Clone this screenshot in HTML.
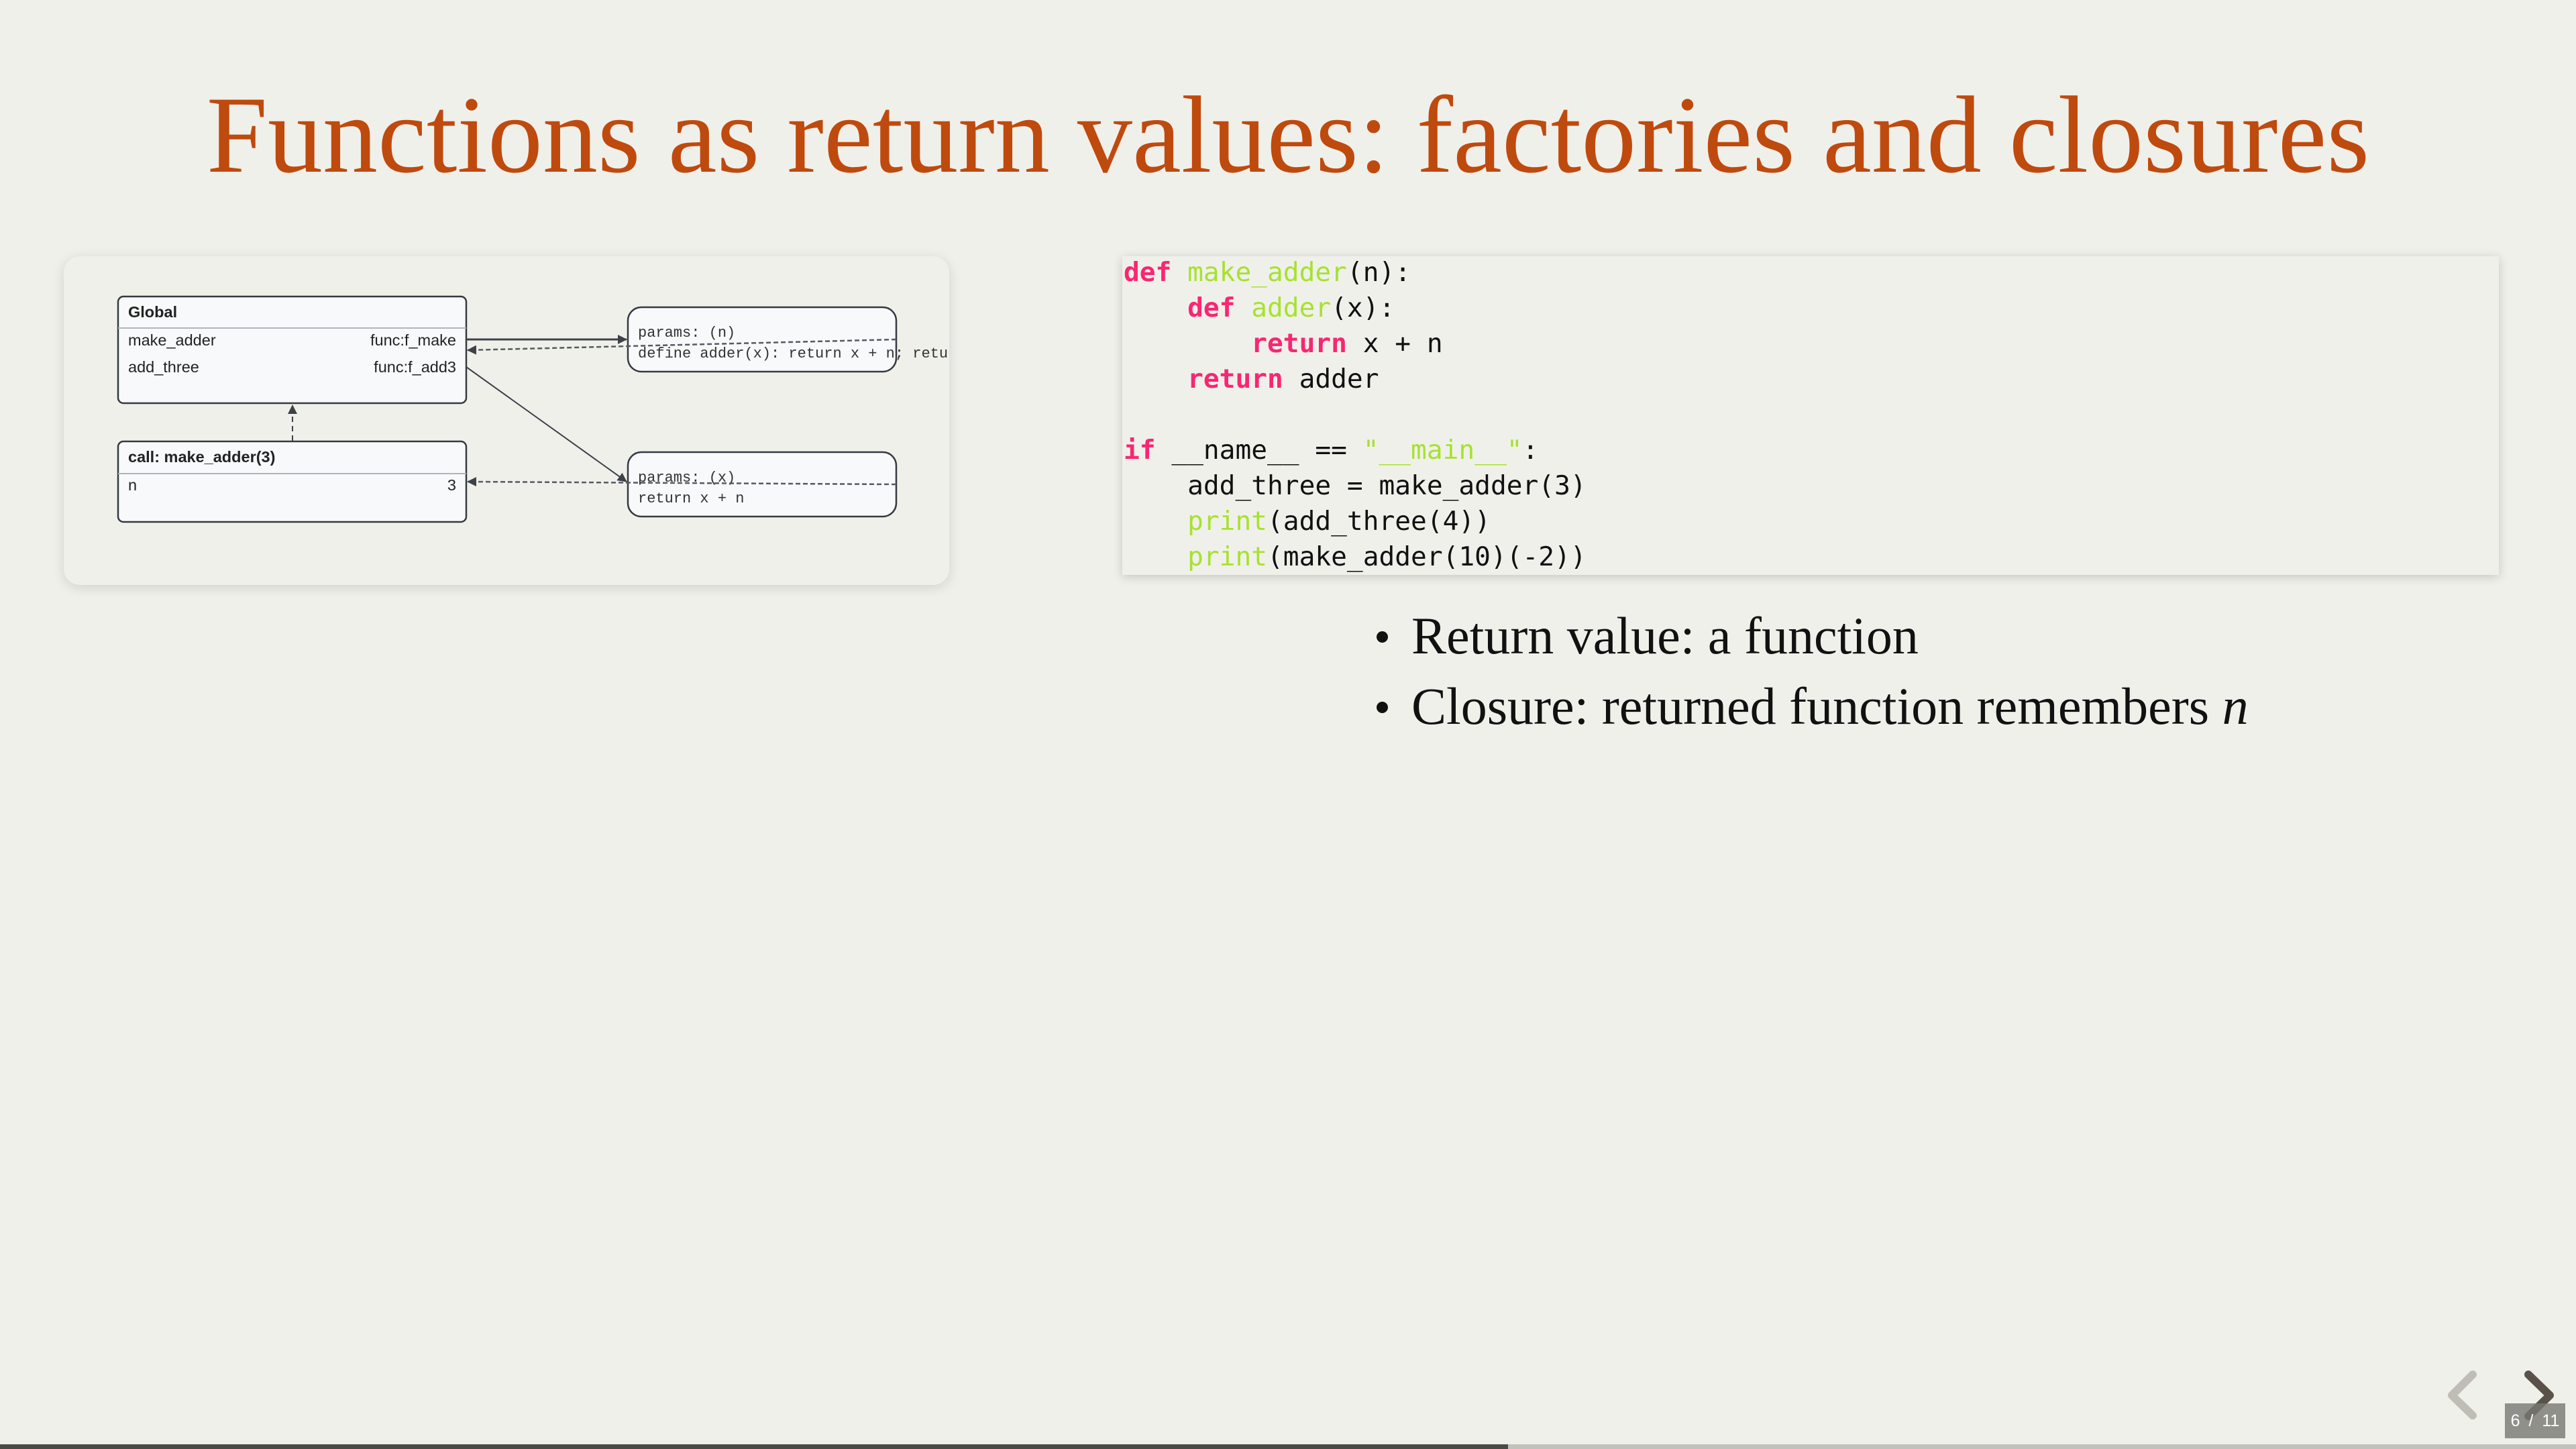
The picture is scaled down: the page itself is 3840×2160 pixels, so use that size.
<!DOCTYPE html>
<html><head><meta charset="utf-8"><style>
html,body{margin:0;padding:0}
body{width:3840px;height:2160px;background:#f0f0eb;position:relative;overflow:hidden;font-family:"Liberation Sans",sans-serif}
.title{position:absolute;left:0;width:3840px;top:92px;text-align:center;font-family:"Liberation Serif",serif;font-size:164px;color:#bf4a0e;line-height:220px;white-space:nowrap}
.panel{position:absolute;left:95px;top:382px;width:1320px;height:490px;border-radius:24px;background:#f0f0eb;box-shadow:0 4px 18px rgba(0,0,0,.13);overflow:hidden}
.code{position:absolute;left:1673px;top:382px;width:2052px;height:475px;background:#f0f0eb;box-shadow:0 3px 14px rgba(0,0,0,.18)}
.code pre{margin:0;position:absolute;left:2px;top:-2px;font-family:"DejaVu Sans Mono",monospace;font-size:39.5px;line-height:53px;color:#111}
.k{color:#f92672;font-weight:bold}.g{color:#a6e22e}
ul{position:absolute;left:2040px;top:895px;margin:0;padding:0;list-style:none;font-family:"Liberation Serif",serif;font-size:78px;color:#111}
li{height:105px;line-height:105px;position:relative;padding-left:64px}
li:before{content:"";position:absolute;left:12px;top:46px;width:17px;height:17px;border-radius:50%;background:#111}
.bar{position:absolute;left:0;top:2153px;width:3840px;height:7px;background:#c2c2bc}
.bar div{width:2248px;height:7px;background:#4a4a48}
.pg{position:absolute;left:3734px;top:2092px;width:90px;height:52px;background:rgba(120,120,115,.8);color:#fff;font-size:25px;line-height:52px;text-align:center;word-spacing:6px}
</style></head><body>
<div class="title">Functions as return values: factories and closures</div>
<div class="panel">
<svg width="1320" height="490" viewBox="95 382 1320 490" style="position:absolute;left:0;top:0">
<defs>
<marker id="a" markerWidth="14" markerHeight="14" refX="13" refY="7" orient="auto" markerUnits="userSpaceOnUse" viewBox="0 0 14 14"><path d="M0,0L14,7L0,14z" fill="#3d4148"/></marker>
</defs>
<g font-family="Liberation Sans, sans-serif" font-size="23.5" fill="#222">
<rect x="176" y="442" width="519" height="159" rx="8" fill="#f8f9fa" stroke="#343a40" stroke-width="2.5"/>
<line x1="176" y1="489" x2="695" y2="489" stroke="#adb5bd" stroke-width="2"/>
<text x="191" y="473" font-weight="bold">Global</text>
<text x="191" y="515">make_adder</text><text x="680" y="515" text-anchor="end">func:f_make</text>
<text x="191" y="555">add_three</text><text x="680" y="555" text-anchor="end">func:f_add3</text>
<rect x="176" y="658" width="519" height="120" rx="8" fill="#f8f9fa" stroke="#343a40" stroke-width="2.5"/>
<line x1="176" y1="706" x2="695" y2="706" stroke="#adb5bd" stroke-width="2"/>
<text x="191" y="689" font-weight="bold">call: make_adder(3)</text>
<text x="191" y="731">n</text><text x="680" y="731" text-anchor="end">3</text>
</g>
<g font-family="Liberation Mono, monospace" font-size="22" fill="#333">
<rect x="936" y="458" width="400" height="96" rx="20" fill="#f8f9fa" stroke="#343a40" stroke-width="2.5"/>
<text x="951" y="502">params: (n)</text>
<text x="951" y="533">define adder(x): return x + n; return adder</text>
<rect x="936" y="674" width="400" height="96" rx="20" fill="#f8f9fa" stroke="#343a40" stroke-width="2.5"/>
<text x="951" y="718">params: (x)</text>
<text x="951" y="749">return x + n</text>
</g>
<g stroke="#3d4148" fill="none" stroke-width="2.5">
<line x1="695" y1="506" x2="934" y2="506" marker-end="url(#a)" stroke-width="3"/>
<line x1="1336" y1="506" x2="697" y2="522" stroke-dasharray="7,4" stroke="#555b62" marker-end="url(#a)"/>
<line x1="695" y1="547" x2="934" y2="718" marker-end="url(#a)" stroke-width="2"/>
<line x1="1336" y1="722" x2="697" y2="718" stroke-dasharray="7,4" stroke="#555b62" marker-end="url(#a)"/>
<line x1="436" y1="657" x2="436" y2="604" stroke-dasharray="8,6" stroke-width="2" marker-end="url(#a)"/>
</g>
</svg>
</div>
<div class="code"><pre><span class="k">def</span> <span class="g">make_adder</span>(n):
    <span class="k">def</span> <span class="g">adder</span>(x):
        <span class="k">return</span> x + n
    <span class="k">return</span> adder

<span class="k">if</span> __name__ == <span class="g">"__main__"</span>:
    add_three = make_adder(3)
    <span class="g">print</span>(add_three(4))
    <span class="g">print</span>(make_adder(10)(-2))</pre></div>
<ul><li>Return value: a function</li><li>Closure: returned function remembers <i>n</i></li></ul>
<svg width="3840" height="2160" style="position:absolute;left:0;top:0">
<polyline points="3686,2049 3655,2080 3686,2110" fill="none" stroke="#c0bdb7" stroke-width="12" stroke-linecap="round" stroke-linejoin="round"/>
<polyline points="3769,2049 3801,2080 3769,2111" fill="none" stroke="#5a5248" stroke-width="12" stroke-linecap="round" stroke-linejoin="round"/>
</svg>
<div class="pg">6 / 11</div>
<div class="bar"><div></div></div>
</body></html>
